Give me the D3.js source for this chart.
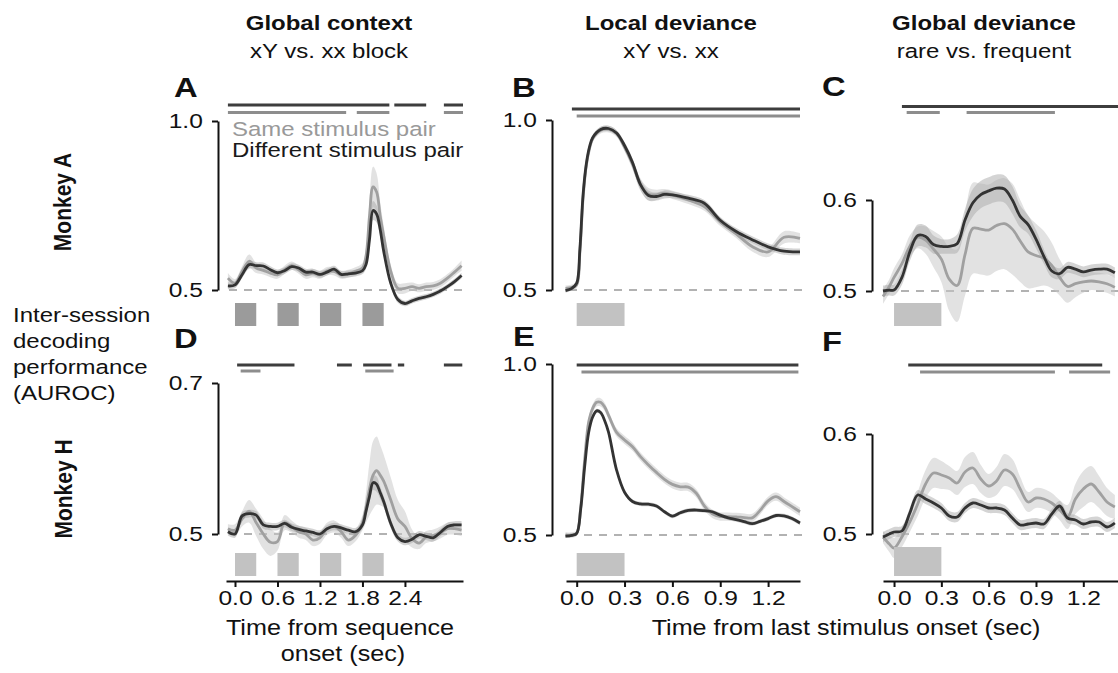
<!DOCTYPE html>
<html>
<head>
<meta charset="utf-8">
<script src="https://cdn.jsdelivr.net/npm/d3@7"></script>
<style>
  body { margin: 0; background: #fff; }
  svg { display: block; }
</style>
</head>
<body>
<script>
// ---- data ----
// time grids (sec)
const seqTimes = [-0.1,0,0.1,0.2,0.3,0.4,0.5,0.6,0.7,0.8,0.9,1.0,1.1,1.2,1.3,1.4,1.5,1.6,1.7,1.8,1.85,1.9,1.95,2.0,2.05,2.1,2.2,2.3,2.4,2.5,2.6,2.7,2.8,2.9,3.0,3.1,3.2]
const bTimes = [-0.07,-0.03,0,0.02,0.04,0.06,0.08,0.1,0.15,0.2,0.25,0.3,0.35,0.4,0.45,0.5,0.55,0.6,0.7,0.8,0.9,1.0,1.1,1.2,1.3,1.4]
const eTimes = [-0.07,-0.03,0,0.025,0.05,0.075,0.1,0.125,0.15,0.175,0.2,0.25,0.3,0.35,0.4,0.45,0.5,0.55,0.6,0.65,0.7,0.75,0.8,0.85,0.9,0.95,1.0,1.05,1.1,1.15,1.2,1.25,1.3,1.35,1.4]
const cfTimes = [-0.07,-0.03,0,0.05,0.1,0.15,0.2,0.25,0.3,0.35,0.4,0.45,0.5,0.55,0.6,0.65,0.7,0.75,0.8,0.85,0.9,0.95,1.0,1.05,1.1,1.15,1.2,1.25,1.3,1.35,1.4]

// A: global context, monkey A
const aDark = [.512,.515,.545,.575,.572,.571,.56,.551,.557,.569,.565,.553,.553,.546,.553,.562,.546,.548,.55,.557,.575,.65,.735,.725,.68,.615,.52,.472,.46,.468,.475,.48,.487,.497,.51,.525,.543]
const aDarkSem = [.01,.01,.01,.012,.01,.01,.01,.01,.01,.01,.01,.01,.01,.01,.01,.01,.01,.01,.01,.01,.012,.02,.028,.025,.02,.015,.01,.01,.008,.008,.008,.008,.008,.008,.008,.008,.008]
const aGray = [.535,.52,.555,.585,.565,.558,.55,.545,.56,.572,.56,.545,.55,.545,.556,.555,.545,.548,.555,.565,.6,.72,.805,.79,.72,.66,.555,.505,.505,.51,.505,.51,.512,.52,.535,.553,.572]
const aGraySem = [.015,.012,.015,.02,.015,.012,.012,.012,.012,.012,.012,.012,.012,.012,.012,.012,.012,.012,.012,.015,.025,.045,.06,.055,.04,.03,.02,.015,.015,.012,.012,.012,.012,.012,.012,.012,.015]

// B: local deviance, monkey A
const bDark = [.498,.505,.52,.62,.78,.87,.92,.948,.972,.975,.962,.925,.875,.81,.778,.775,.781,.78,.77,.755,.705,.672,.648,.627,.614,.612]
const bDarkSem = [.006,.006,.008,.01,.012,.01,.008,.008,.008,.008,.008,.01,.012,.015,.015,.012,.012,.01,.01,.01,.01,.01,.01,.01,.01,.01]
const bGray = [.505,.508,.515,.61,.77,.865,.915,.945,.97,.973,.96,.92,.87,.81,.782,.78,.785,.78,.765,.745,.70,.665,.628,.612,.655,.652]
const bGraySem = [.008,.008,.01,.012,.012,.01,.01,.01,.01,.01,.01,.012,.015,.018,.018,.015,.012,.012,.012,.012,.012,.012,.015,.015,.018,.015]

// C: global deviance, monkey A
const cDark = [.500,.501,.501,.515,.543,.561,.56,.551,.549,.549,.552,.578,.597,.606,.61,.613,.612,.6,.582,.573,.557,.538,.522,.519,.526,.524,.521,.523,.524,.524,.52]
const cDarkSem = [.006,.006,.006,.008,.01,.012,.012,.01,.008,.008,.01,.012,.015,.015,.015,.015,.015,.015,.012,.01,.01,.008,.007,.006,.006,.006,.006,.006,.006,.006,.006]
const cGray = [.494,.505,.515,.53,.549,.559,.556,.546,.535,.513,.506,.54,.569,.568,.567,.572,.574,.568,.555,.543,.539,.536,.528,.515,.505,.508,.51,.511,.51,.508,.504]
const cGraySem = [.008,.008,.01,.01,.012,.012,.015,.02,.025,.035,.04,.045,.05,.05,.05,.05,.05,.05,.045,.04,.035,.03,.025,.02,.018,.015,.012,.01,.01,.01,.01]

// D: global context, monkey H
const dDark = [.503,.50,.524,.527,.525,.512,.51,.51,.514,.509,.506,.504,.502,.50,.507,.51,.508,.505,.503,.512,.53,.55,.568,.566,.555,.543,.514,.495,.49,.493,.499,.497,.495,.502,.51,.512,.512]
const dDarkSem = [.005,.005,.005,.005,.005,.005,.005,.005,.005,.005,.005,.005,.005,.005,.005,.005,.005,.005,.005,.005,.006,.008,.01,.01,.008,.007,.006,.005,.005,.005,.005,.005,.005,.005,.005,.005,.005]
const dGray = [.507,.505,.52,.53,.515,.50,.489,.49,.515,.51,.503,.50,.492,.495,.507,.51,.503,.492,.498,.515,.535,.56,.578,.584,.578,.57,.545,.52,.51,.494,.488,.496,.498,.502,.507,.507,.505]
const dGraySem = [.006,.008,.01,.015,.018,.02,.018,.012,.01,.008,.008,.008,.008,.008,.008,.008,.008,.008,.008,.01,.02,.035,.045,.045,.04,.035,.03,.025,.02,.012,.008,.008,.008,.008,.008,.008,.008]

// E: local deviance, monkey H
const eDark = [.497,.499,.505,.575,.70,.80,.845,.863,.858,.835,.80,.69,.625,.598,.591,.59,.585,.568,.555,.565,.572,.573,.571,.568,.558,.55,.545,.539,.533,.54,.548,.557,.556,.548,.535]
const eDarkSem = [.005,.005,.005,.006,.006,.006,.006,.006,.006,.006,.006,.006,.006,.006,.006,.006,.006,.006,.006,.006,.006,.006,.006,.006,.006,.006,.006,.006,.006,.006,.006,.006,.006,.006,.006]
const eGray = [.50,.50,.505,.58,.72,.83,.87,.888,.888,.875,.85,.80,.778,.758,.729,.705,.683,.663,.648,.641,.64,.622,.585,.562,.554,.554,.553,.551,.55,.572,.60,.612,.598,.583,.568]
const eGraySem = [.008,.008,.008,.01,.012,.012,.012,.012,.012,.012,.012,.012,.012,.012,.012,.012,.012,.012,.012,.012,.012,.012,.012,.012,.012,.012,.012,.012,.012,.012,.012,.012,.012,.012,.012]

// F: global deviance, monkey H
const fDark = [.497,.5,.502,.503,.521,.539,.535,.531,.526,.518,.517,.526,.531,.529,.526,.526,.524,.516,.509,.51,.511,.51,.52,.528,.516,.514,.51,.512,.512,.507,.511]
const fDarkSem = [.005,.005,.005,.005,.005,.005,.005,.005,.005,.005,.005,.005,.005,.005,.005,.005,.005,.005,.005,.005,.005,.005,.005,.005,.005,.005,.005,.005,.005,.005,.005]
const fGray = [.497,.49,.486,.497,.512,.53,.55,.561,.559,.556,.551,.562,.566,.555,.548,.553,.564,.56,.545,.532,.536,.535,.531,.524,.517,.535,.545,.55,.542,.532,.527]
const fGraySem = [.006,.008,.01,.01,.01,.012,.014,.015,.014,.012,.012,.015,.016,.014,.012,.014,.016,.015,.012,.01,.01,.01,.01,.01,.012,.015,.018,.018,.016,.014,.012]

// significance bars [start, end] in sec
const aSigDark = [[-0.1,2.18],[2.25,2.7],[2.95,3.22]]
const aSigGray = [[-0.1,1.57],[1.72,2.18],[2.95,3.22]]
const bSigDark = [[-0.03,1.4]]
const bSigGray = [[0,1.4]]
const cSigDark = [[0.05,1.45]]
const cSigGray = [[0.08,0.29],[0.46,1.02]]
const dSigDark = [[0.03,0.84],[1.44,1.65],[1.81,2.21],[2.3,2.39],[2.95,3.21]]
const dSigGray = [[0.08,0.36],[1.84,2.24]]
const eSigDark = [[0,1.39]]
const eSigGray = [[0.03,1.39]]
const fSigDark = [[0.09,1.32]]
const fSigGray = [[0.165,1.02],[1.11,1.37]]

// stimulus presentations
const seqStim = [[0,0.3],[0.6,0.9],[1.2,1.5],[1.8,2.1]]
const lastStim = [[0,0.3]]

// ticks
const seqTicks = [0,0.6,1.2,1.8,2.4]
const lastTicks = [0,0.3,0.6,0.9,1.2]
const yTicksHigh = [0.5,1.0]
const yTicksD = [0.5,0.7]
const yTicksLow = [0.5,0.6]

const colTitles = ["Global context","Local deviance","Global deviance"]
const colSubtitles = ["xY vs. xx block","xY vs. xx","rare vs. frequent"]

// ---- layout ----
const W = 1118, H = 673
const SX = 1.17          // the figure is a little stretched horizontally
const FONT = '"Liberation Sans", Arial, Helvetica, sans-serif'
const DARK = "#333", GRAY = "#a0a0a0"

const svg = d3.select("body").append("svg")
  .attr("width", W).attr("height", H)
  .attr("font-family", FONT)

function label(x, y, str, size, opt = {}) {
  return svg.append("text")
    .attr("transform", `translate(${x},${y}) scale(${SX},1)` + (opt.rotate ? ` rotate(${opt.rotate})` : ""))
    .attr("font-size", size)
    .attr("text-anchor", opt.anchor || "start")
    .attr("font-weight", opt.bold ? "bold" : null)
    .attr("fill", opt.fill || "#111")
    .text(str)
}

const panels = [
  { key:"A", t:seqTimes, dark:aDark, darkSem:aDarkSem, gray:aGray, graySem:aGraySem, sigDark:aSigDark, sigGray:aSigGray,
    stim:seqStim, yTicks:yTicksHigh, xd:[-0.127,3.22], xr:[226,463], yr:[290,121], axisX:218, sigY:[105,112.5],
    stimY:[303,326], stimFill:"#9b9b9b", letter:[174,97] },
  { key:"B", t:bTimes, dark:bDark, darkSem:bDarkSem, gray:bGray, graySem:bGraySem, sigDark:bSigDark, sigGray:bSigGray,
    stim:lastStim, yTicks:yTicksHigh, xd:[-0.067,1.40], xr:[566,800], yr:[290,120], axisX:552, sigY:[109,116],
    stimY:[303,326], stimFill:"#c2c2c2", letter:[512,97] },
  { key:"C", t:cfTimes, dark:cDark, darkSem:cDarkSem, gray:cGray, graySem:cGraySem, sigDark:cSigDark, sigGray:cSigGray,
    stim:lastStim, yTicks:yTicksLow, xd:[-0.07,1.42], xr:[883,1118], yr:[291,200], axisX:872, sigY:[106.5,112.5],
    stimY:[303,326], stimFill:"#c2c2c2", letter:[822,96] },
  { key:"D", t:seqTimes, dark:dDark, darkSem:dDarkSem, gray:dGray, graySem:dGraySem, sigDark:dSigDark, sigGray:dSigGray,
    stim:seqStim, yTicks:yTicksD, xd:[-0.127,3.22], xr:[226,463], yr:[534,383], axisX:218, sigY:[365,371],
    stimY:[553,576], stimFill:"#c2c2c2", letter:[174,348], xTicks:seqTicks },
  { key:"E", t:eTimes, dark:eDark, darkSem:eDarkSem, gray:eGray, graySem:eGraySem, sigDark:eSigDark, sigGray:eSigGray,
    stim:lastStim, yTicks:yTicksHigh, xd:[-0.067,1.40], xr:[566,800], yr:[535,364], axisX:552, sigY:[365,372],
    stimY:[553,576], stimFill:"#c2c2c2", letter:[513,346], xTicks:lastTicks },
  { key:"F", t:cfTimes, dark:fDark, darkSem:fDarkSem, gray:fGray, graySem:fGraySem, sigDark:fSigDark, sigGray:fSigGray,
    stim:lastStim, yTicks:yTicksLow, xd:[-0.07,1.42], xr:[883,1118], yr:[534,434], axisX:872, sigY:[365,372],
    stimY:[547,576], stimFill:"#c2c2c2", letter:[822,351], xTicks:lastTicks }
]

const X_AXIS_Y = 581

panels.forEach(p => {
  const x = d3.scaleLinear().domain(p.xd).range(p.xr)
  const y = d3.scaleLinear().domain(p.yTicks).range(p.yr)
  const g = svg.append("g")

  // chance level
  g.append("line")
    .attr("x1", p.xr[0] + 3).attr("x2", p.xr[1] + 3)
    .attr("y1", y(0.5)).attr("y2", y(0.5))
    .attr("stroke", "#999").attr("stroke-width", 1.3)
    .attr("stroke-dasharray", "8,7")

  const series = [
    { m: p.gray, s: p.graySem, band: "#c6c6c6", line: GRAY },
    { m: p.dark, s: p.darkSem, band: "#a9a9a9", line: DARK }
  ]
  const curve = d3.curveCatmullRom.alpha(0.5)

  series.forEach(se => {
    const rows = p.t.map((t, i) => ({ t, m: se.m[i], s: se.s[i] }))
    g.append("path").datum(rows)
      .attr("fill", se.band).attr("fill-opacity", 0.5)
      .attr("d", d3.area().curve(curve)
        .x(d => x(d.t)).y0(d => y(d.m - d.s)).y1(d => y(d.m + d.s)))
  })
  series.forEach(se => {
    const rows = p.t.map((t, i) => ({ t, m: se.m[i] }))
    g.append("path").datum(rows)
      .attr("fill", "none").attr("stroke", se.line).attr("stroke-width", 2.8)
      .attr("stroke-linejoin", "round")
      .attr("d", d3.line().curve(curve).x(d => x(d.t)).y(d => y(d.m)))
  })

  // significance bars
  const sig = [[p.sigDark, p.sigY[0], "#3d3d3d"], [p.sigGray, p.sigY[1], "#8d8d8d"]]
  sig.forEach(([segs, yy, col]) => {
    g.selectAll(null).data(segs).enter().append("line")
      .attr("x1", d => x(d[0])).attr("x2", d => x(d[1]))
      .attr("y1", yy).attr("y2", yy)
      .attr("stroke", col).attr("stroke-width", 3)
  })

  // stimulus boxes
  g.selectAll(null).data(p.stim).enter().append("rect")
    .attr("x", d => x(d[0])).attr("width", d => x(d[1]) - x(d[0]))
    .attr("y", p.stimY[0]).attr("height", p.stimY[1] - p.stimY[0])
    .attr("fill", p.stimFill)

  // y axis (range frame between the two ticks)
  const ya = g.append("g")
    .attr("transform", `translate(${p.axisX},0)`)
    .call(d3.axisLeft(y).tickValues(p.yTicks).tickSize(6).tickSizeOuter(0)
      .tickPadding(7).tickFormat(d3.format(".1f")))
  ya.attr("font-family", FONT).attr("font-size", 21)
  ya.select(".domain").attr("stroke", "#111").attr("stroke-width", 2)
  ya.selectAll(".tick line").attr("stroke", "#111").attr("stroke-width", 2)
  ya.selectAll(".tick text").attr("fill", "#111").attr("transform", `scale(${SX},1)`)

  // x axis only on the bottom row
  if (p.xTicks) {
    const xa = g.append("g")
      .attr("transform", `translate(0,${X_AXIS_Y})`)
      .call(d3.axisBottom(x).tickValues(p.xTicks).tickSize(6).tickSizeOuter(0)
        .tickPadding(3).tickFormat(d3.format(".1f")))
    xa.attr("font-family", FONT).attr("font-size", 21)
    xa.select(".domain").attr("stroke", "#111").attr("stroke-width", 2)
    xa.selectAll(".tick line").attr("stroke", "#111").attr("stroke-width", 2)
    xa.selectAll(".tick text").attr("fill", "#111").attr("transform", `scale(${SX},1)`)
  }

  label(p.letter[0], p.letter[1], p.key, 28, { bold: true })
})

// legend in panel A
label(232, 136, "Same stimulus pair", 20.5, { fill: "#999" })
label(232, 157, "Different stimulus pair", 20.5, { fill: "#1a1a1a" })

// column headers
const colX = [329, 671, 984]
colTitles.forEach((s, i) => label(colX[i], 30, s, 20.5, { bold: true, anchor: "middle" }))
colSubtitles.forEach((s, i) => label(colX[i], 58, s, 20.5, { anchor: "middle" }))

// row labels
label(71, 202, "Monkey A", 21, { bold: true, anchor: "middle", rotate: -90 })
label(72, 489, "Monkey H", 21, { bold: true, anchor: "middle", rotate: -90 })
const yTitle = ["Inter-session", "decoding", "performance", "(AUROC)"]
yTitle.forEach((s, i) => label(13, 322 + i * 26, s, 20.5))

// x axis titles
label(340, 635, "Time from sequence", 21.5, { anchor: "middle" })
label(343, 661, "onset (sec)", 21.5, { anchor: "middle" })
label(846, 635, "Time from last stimulus onset (sec)", 21.5, { anchor: "middle" })
</script>
</body>
</html>
